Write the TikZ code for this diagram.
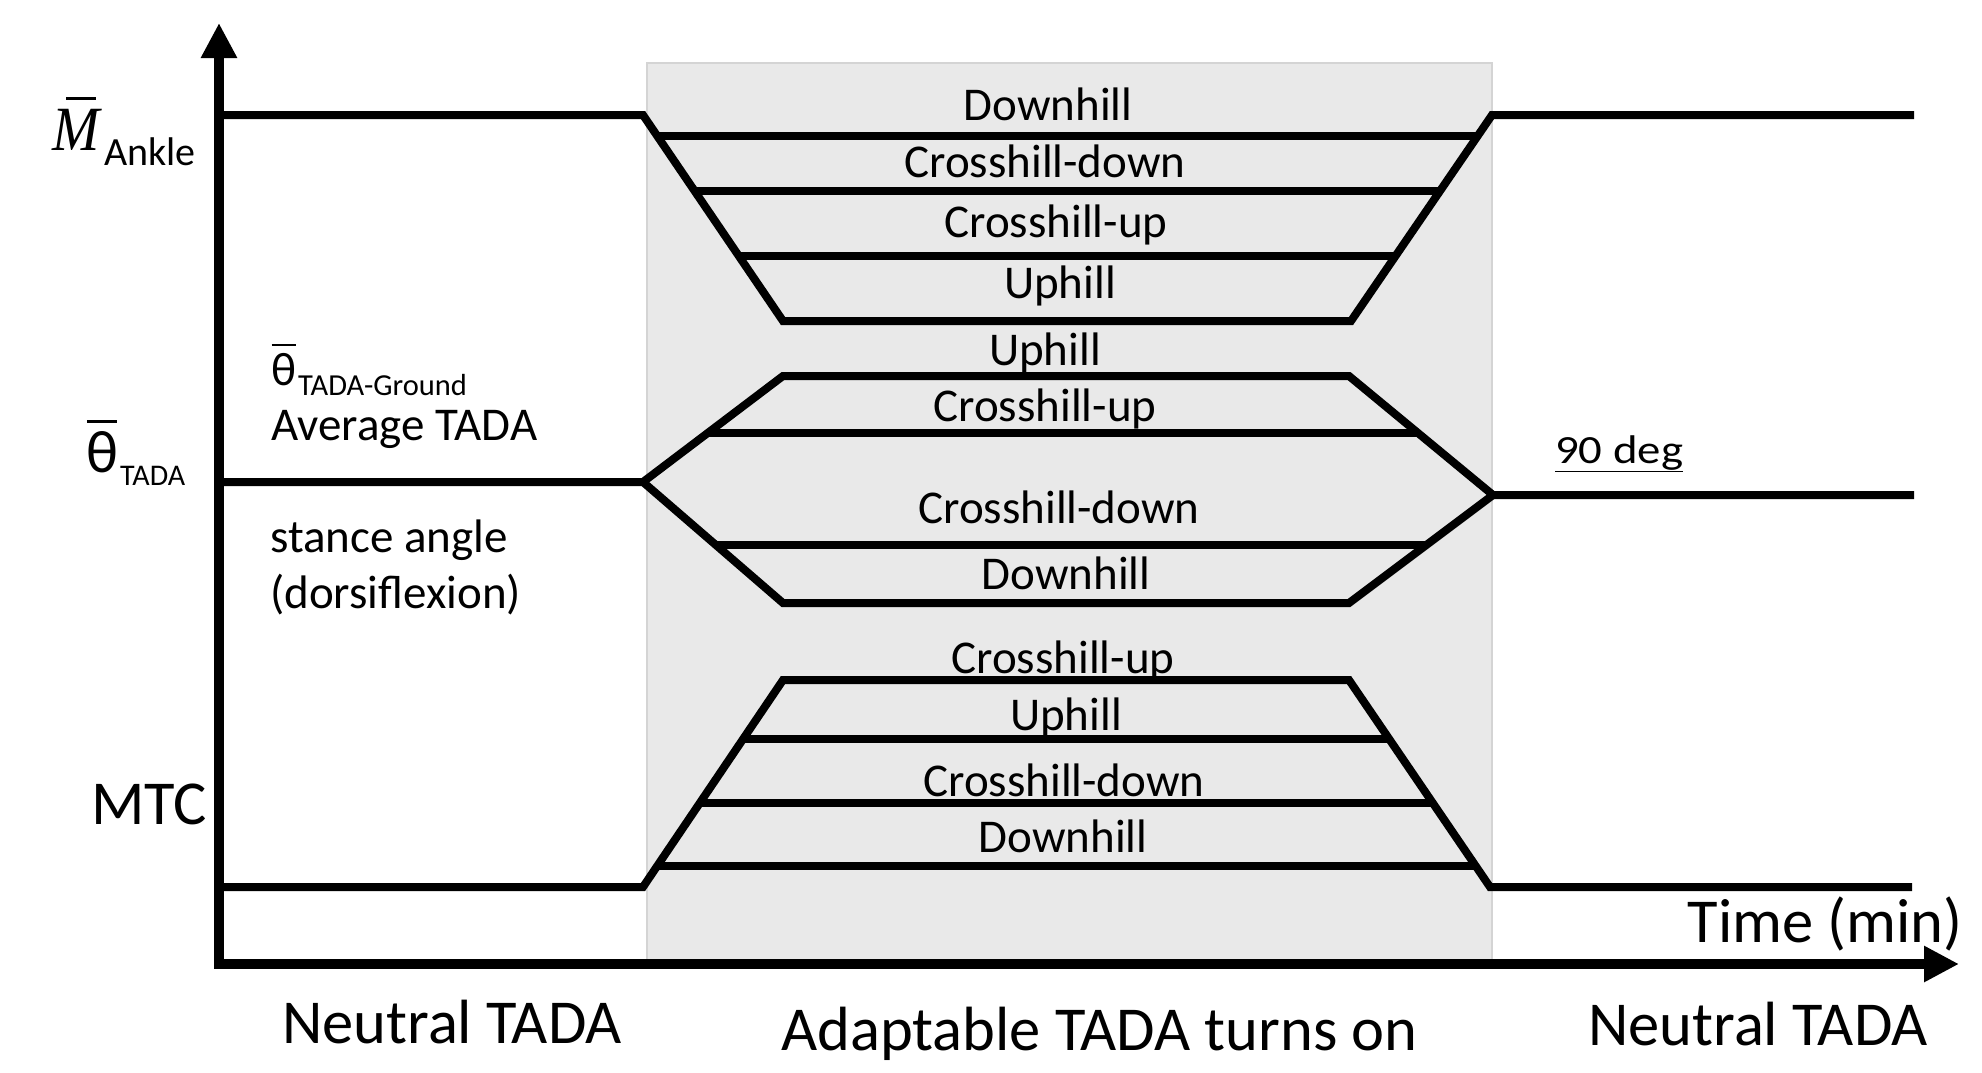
\documentclass[tikz,border=0pt]{standalone}
\usepackage{fontspec}
\setmainfont{Carlito}
\newfontfamily\symbolserif{Liberation Serif}
\usetikzlibrary{arrows.meta}

\definecolor{panelgray}{RGB}{233,233,233}
\definecolor{paneledge}{RGB}{212,212,212}

% glyph with a bar over it: #1 glyph, #2 bar start (fraction of width),
% #3 bar length (fraction of width), #4 gap between glyph top and bar
\newcommand\barredglyph[4]{%
  \setbox0=\hbox{#1}\leavevmode
  \rlap{\kern#2\wd0\rule[\dimexpr\ht0+#4\relax]{#3\wd0}{0.05em}}\box0}

\tikzset{
  plotline/.style={line width=8pt, black},
  axisline/.style={line width=10pt, black},
  hill/.style={font=\fontsize{47}{57}\selectfont, inner sep=0pt, anchor=base},
  note/.style={font=\fontsize{47}{57}\selectfont, inner sep=0pt, anchor=base west},
  big/.style={font=\fontsize{62.5}{75}\selectfont, inner sep=0pt},
  subs/.style={inner sep=0pt, anchor=base west},
}

\begin{document}
\begin{tikzpicture}[x=1pt, y=-1pt]
\useasboundingbox (0,0) rectangle (1982,1072);

% shaded phase where the adaptable TADA is active
\filldraw[fill=panelgray, draw=paneledge, line width=1.5pt] (647,63) rectangle (1492,962);

% ---- ankle moment ----
\coordinate (mA) at (219,115);
\coordinate (mB) at (643,115);
\coordinate (mC) at (783,321);
\coordinate (mD) at (1351,321);
\coordinate (mE) at (1492,115);
\coordinate (mF) at (1914,115);
\draw[plotline] (mA) -- (mB) -- (mC) -- (mD) -- (mE) -- (mF);
\draw[plotline] (657.3,136) -- (1477.6,136);
\draw[plotline] (694.7,191) -- (1440.0,191);
\draw[plotline] (738.8,256) -- (1395.5,256);

\node[hill] (m1) at (1048,120) {Downhill};
\node[hill] (m2) at (1045,177) {Crosshill-down};
\node[hill] (m3) at (1056,237) {Crosshill-up};
\node[hill] (m4) at (1060,298) {Uphill};

% ---- TADA angle ----
\coordinate (tA) at (219,482);
\coordinate (tB) at (643,482);
\coordinate (tUL) at (783,376);
\coordinate (tUR) at (1349,376);
\coordinate (tLL) at (783,603);
\coordinate (tLR) at (1349,603);
\coordinate (tE) at (1493,495);
\coordinate (tF) at (1914,495);
\draw[plotline] (tA) -- (tB) -- (tUL) -- (tUR) -- (tE) -- (tF);
\draw[plotline] (tB) -- (tLL) -- (tLR) -- (tE);
\draw[plotline] (707.7,433) -- (1418.0,433);
\draw[plotline] (715.9,545) -- (1426.3,545);

\node[hill] (t1) at (1045,365) {Uphill};
\node[hill] (t2) at (1045,421) {Crosshill-up};
\node[hill] (t3) at (1059,523) {Crosshill-down};
\node[hill] (t4) at (1066,589) {Downhill};

% ---- MTC ----
\coordinate (cA) at (219,887);
\coordinate (cB) at (643,887);
\coordinate (cC) at (783,680);
\coordinate (cD) at (1349,680);
\coordinate (cE) at (1490,887);
\coordinate (cF) at (1912,887);
\draw[plotline] (cA) -- (cB) -- (cC) -- (cD) -- (cE) -- (cF);
\draw[plotline] (743.1,739) -- (1389.2,739);
\draw[plotline] (699.8,803) -- (1432.8,803);
\draw[plotline] (657.2,866) -- (1475.7,866);

\node[hill] (c1) at (1063,673) {Crosshill-up};
\node[hill] (c2) at (1066,730) {Uphill};
\node[hill] (c3) at (1064,796) {Crosshill-down};
\node[hill] (c4) at (1063,852) {Downhill};

% ---- axes ----
\draw[axisline, {Triangle[length=35pt,width=34pt]}-{Triangle[length=35pt,width=34pt]}]
  (219,23) -- (219,964) -- (1959,964);

% ---- axis labels ----
\node[subs] (yM) at (52,150)
  {\fontsize{63}{75}\selectfont\symbolserif\itshape\scalebox{0.9}[1]{\barredglyph{M}{0.3}{0.62}{0.14em}}};
\node[subs, font=\fontsize{40}{48}\selectfont] (yMsub) at (104,165) {Ankle};

\node[big, anchor=base west] (yT) at (86,472) {\fontsize{60}{72}\selectfont\barredglyph{θ}{0.02}{0.96}{0.14em}};
\node[subs, font=\fontsize{30}{36}\selectfont] (yTsub) at (120,485) {TADA};

\node[big, anchor=base west] (yC) at (91,824) {MTC};

% ---- notes next to the angle trace ----
\node[note] (nT) at (271,385) {\barredglyph{θ}{0.02}{0.96}{0.15em}};
\node[subs, font=\fontsize{30.5}{36}\selectfont] (nTsub) at (298,395) {TADA-Ground};
\node[note] (nAvg) at (271,440) {Average TADA};
\node[note] (nSt) at (270,552) {stance angle};
\node[note] (nDo) at (270,608) {(dorsiflexion)};

\node[subs, font=\fontsize{40}{48}\selectfont] (nDeg) at (1555,463) {\scalebox{1.17}[1]{\underline{90 deg}}};

% ---- time axis labels ----
\node[big, anchor=base east] (xT) at (1963,942) {Time (min)};
\node[big, anchor=base west] (ph1) at (282,1043) {Neutral TADA};
\node[big, anchor=base west] (ph2) at (781,1050) {Adaptable TADA turns on};
\node[big, anchor=base west] (ph3) at (1588,1045) {Neutral TADA};
\end{tikzpicture}
\end{document}
